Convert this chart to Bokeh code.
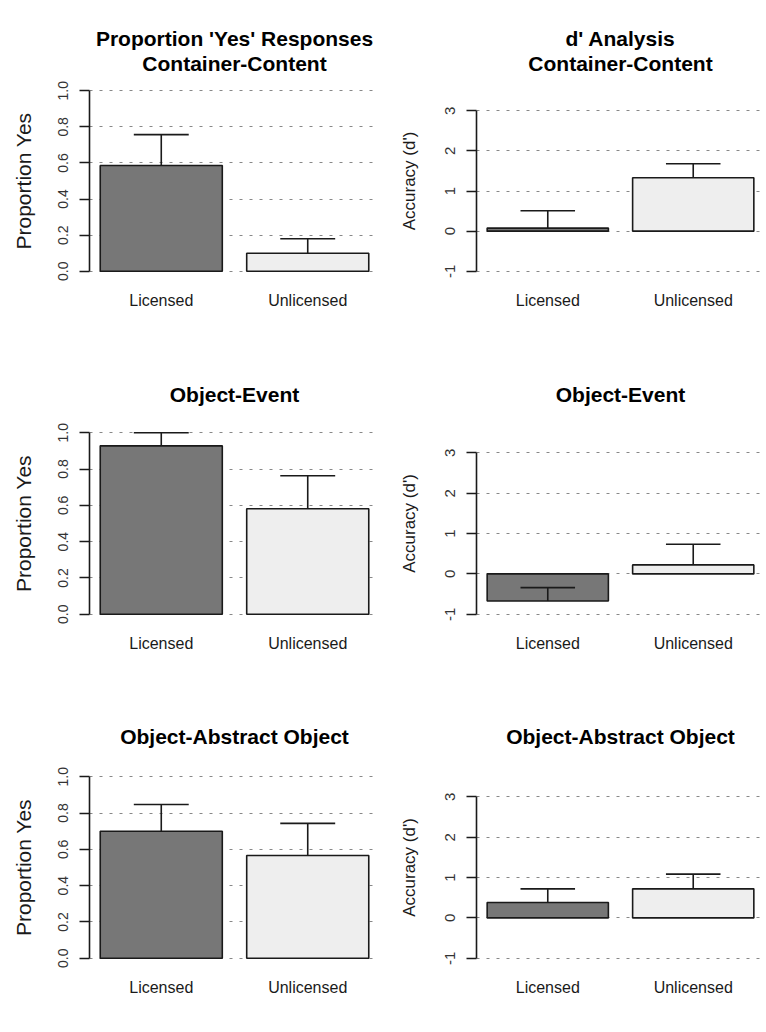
from bokeh.plotting import figure
from bokeh.layouts import column, row
from bokeh.models import Range1d, FixedTicker, Title, PrintfTickFormatter
from bokeh.embed import file_html
from bokeh.resources import INLINE

# ---------------- data ----------------
categories = ["Licensed", "Unlicensed"]

prop_titles = [["Proportion 'Yes' Responses", "Container-Content"], ["Object-Event"], ["Object-Abstract Object"]]
dp_titles = [["d' Analysis", "Container-Content"], ["Object-Event"], ["Object-Abstract Object"]]

prop_cc = [0.586, 0.100]
prop_cc_se = [0.171, 0.080]
prop_oe = [0.928, 0.581]
prop_oe_se = [0.072, 0.182]
prop_oao = [0.700, 0.566]
prop_oao_se = [0.147, 0.177]

dp_cc = [0.076, 1.330]
dp_cc_se = [0.434, 0.350]
dp_oe = [-0.670, 0.224]
dp_oe_se = [0.330, 0.513]
dp_oao = [0.381, 0.720]
dp_oao_se = [0.339, 0.365]

prop_ticks = [0.0, 0.2, 0.4, 0.6, 0.8, 1.0]
dp_ticks = [-1, 0, 1, 2, 3]

# ---------------- style ----------------
FONT = "Liberation Sans"
BAR_COLORS = ["#777777", "#eeeeee"]
INK = "#1a1a1a"


def panel(lines, means, ses, ticks, fmt, yrange, ylabel, ylabel_size, tick_size,
          width, height, left, right, top, fheight, spacer,
          label_standoff, axis_label_standoff):
    lo, hi = min(ticks), max(ticks)
    xs = [i + 1 for i in range(len(categories))]
    bw = 1 / 1.2
    p = figure(width=width, height=height, output_backend="svg", toolbar_location=None,
               x_range=Range1d(0.51, 2.49), y_range=Range1d(*yrange),
               min_border_left=left, min_border_right=right, min_border_top=top,
               min_border_bottom=height - top - fheight, title=None)
    p.outline_line_color = None
    p.background_fill_color = "white"
    p.border_fill_color = "white"

    # title lines: spacer first (closest to frame), then last line, then first
    p.add_layout(Title(text=" ", text_font_size="1px", standoff=spacer), "above")
    for k, line in enumerate(reversed(lines)):
        st = 1 if (k == 0 and len(lines) > 1) else 0
        p.add_layout(Title(text=line, align="center", text_font=FONT, text_font_size="21px",
                           text_font_style="bold", text_color="black", standoff=st), "above")

    p.vbar(x=xs, top=means, bottom=0, width=bw, fill_color=BAR_COLORS,
           line_color=INK, line_width=1.6)
    tops = [m + s for m, s in zip(means, ses)]
    p.segment(x0=xs, y0=means, x1=xs, y1=tops, line_color=INK, line_width=1.6)
    cap = bw * 0.45
    p.segment(x0=[x - cap / 2 for x in xs], y0=tops, x1=[x + cap / 2 for x in xs], y1=tops,
              line_color=INK, line_width=1.6)

    # y axis
    p.yaxis.ticker = FixedTicker(ticks=ticks)
    p.yaxis.formatter = PrintfTickFormatter(format=fmt)
    p.yaxis.bounds = (lo, hi)
    p.yaxis.axis_line_color = INK
    p.yaxis.axis_line_width = 1.6
    p.yaxis.major_tick_line_color = INK
    p.yaxis.major_tick_line_width = 1.6
    p.yaxis.major_tick_out = 10
    p.yaxis.major_tick_in = 0
    p.yaxis.minor_tick_line_color = None
    p.yaxis.major_label_orientation = "vertical"
    p.yaxis.major_label_text_font = FONT
    p.yaxis.major_label_text_font_size = tick_size
    p.yaxis.major_label_text_color = "#333333"
    p.yaxis.major_label_standoff = label_standoff
    p.yaxis.axis_label = ylabel
    p.yaxis.axis_label_text_font = FONT
    p.yaxis.axis_label_text_font_style = "normal"
    p.yaxis.axis_label_text_font_size = ylabel_size
    p.yaxis.axis_label_text_color = INK
    p.yaxis.axis_label_standoff = axis_label_standoff

    # x axis (category names only)
    p.xaxis.ticker = FixedTicker(ticks=xs)
    p.xaxis.major_label_overrides = {x: c for x, c in zip(xs, categories)}
    p.xaxis.axis_line_color = None
    p.xaxis.major_tick_line_color = None
    p.xaxis.minor_tick_line_color = None
    p.xaxis.major_tick_out = 0
    p.xaxis.major_tick_in = 0
    p.xaxis.major_label_text_font = FONT
    p.xaxis.major_label_text_font_size = "16px"
    p.xaxis.major_label_text_color = INK
    p.xaxis.major_label_standoff = 13

    # grid
    p.xgrid.grid_line_color = None
    p.ygrid.ticker = FixedTicker(ticks=ticks)
    p.ygrid.grid_line_color = "#888888"
    p.ygrid.grid_line_dash = "3 7"
    p.ygrid.grid_line_width = 1.2
    return p


heights = [343, 344, 345]
geom = [(83, 195), (82, 196), (82, 196)]
spacers = [5, 17, 19]
prop_range = (-0.04, 1.04)
dp_range = (-1.18, 3.68)

prop_means = [prop_cc, prop_oe, prop_oao]
prop_ses = [prop_cc_se, prop_oe_se, prop_oao_se]
dp_means = [dp_cc, dp_oe, dp_oao]
dp_ses = [dp_cc_se, dp_oe_se, dp_oao_se]

rows = []
for i in range(3):
    lp = panel(prop_titles[i], prop_means[i], prop_ses[i], prop_ticks, "%.1f", prop_range,
               "Proportion Yes", "21px", "14px",
               386, heights[i], 89, 7, geom[i][0], geom[i][1], spacers[i],
               11, 21)
    rp = panel(dp_titles[i], dp_means[i], dp_ses[i], dp_ticks, "%d", dp_range,
               "Accuracy (d')", "17px", "15px",
               380, heights[i], 90, 2, geom[i][0], geom[i][1], spacers[i],
               11, 24)
    rows.append(row(lp, rp))

layout = column(*rows)

open("out.html", "w").write(file_html(layout, INLINE))
